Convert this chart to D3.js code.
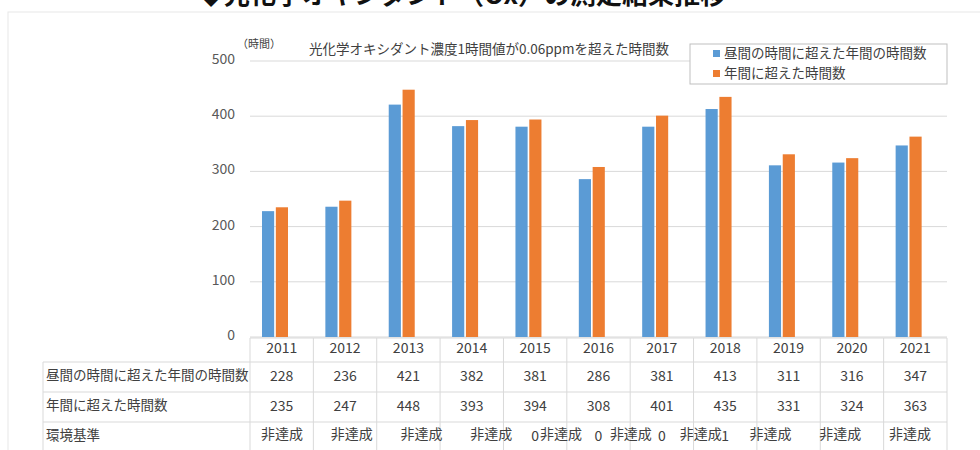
<!DOCTYPE html>
<html>
<head>
<meta charset="utf-8">
<script src="https://cdn.jsdelivr.net/npm/d3@7"></script>
<style>
  body { margin: 0; background: #fff; }
  svg text { font-family: "Noto Sans CJK JP", "Noto Sans", sans-serif; }
</style>
</head>
<body>
<div id="chart"></div>
<script>
var years = ["2011","2012","2013","2014","2015","2016","2017","2018","2019","2020","2021"];
var daytimeHours = [228, 236, 421, 382, 381, 286, 381, 413, 311, 316, 347];
var annualHours = [235, 247, 448, 393, 394, 308, 401, 435, 331, 324, 363];
var seriesNames = ["昼間の時間に超えた年間の時間数", "年間に超えた時間数"];
var rowLabels = ["昼間の時間に超えた年間の時間数", "年間に超えた時間数", "環境基準"];
var standardCounts = ["", "", "", "", "0", "0", "0", "1", "", "", ""];
var standardLabels = ["非達成","非達成","非達成","非達成","非達成","非達成","非達成","非達成","非達成","非達成"];
var yTicks = [0, 100, 200, 300, 400, 500];

var colors = ["#5b9bd5", "#ed7d31"];
var gridColor = "#d9d9d9";
var axisText = "#595959";
var tableText = "#404040";

var width = 980, height = 450;

var svg = d3.select("#chart").append("svg")
  .attr("width", width)
  .attr("height", height);

// faint frame of the pasted picture
svg.append("rect")
  .attr("x", 8).attr("y", 12)
  .attr("width", 1000).attr("height", 460)
  .attr("fill", "#fff")
  .attr("stroke", "#e8e8e8");

// page heading, cut off at the top as in the source
svg.append("text")
  .attr("x", 462).attr("y", 4)
  .attr("text-anchor", "middle")
  .attr("font-size", 26)
  .attr("font-weight", "bold")
  .attr("fill", "#111")
  .text("◆光化学オキシダント（Ox）の測定結果推移");

var y = d3.scaleLinear().domain([0, 500]).range([337, 61]);
var xBar = d3.scaleBand().domain(years).range([243, 940]);
var xSeries = d3.scaleBand().domain([0, 1]).range([19, 45]).paddingInner(0.12);
var xTable = d3.scaleBand().domain(years).range([250, 947]);

// gridlines
svg.append("g").selectAll("line")
  .data(yTicks)
  .enter().append("line")
  .attr("x1", 250).attr("x2", 947)
  .attr("y1", d => y(d)).attr("y2", d => y(d))
  .attr("stroke", gridColor);

// y axis labels
svg.append("g").selectAll("text")
  .data(yTicks)
  .enter().append("text")
  .attr("x", 235)
  .attr("y", d => y(d) - 2)
  .attr("dy", "0.35em")
  .attr("text-anchor", "end")
  .attr("font-size", 14)
  .attr("fill", axisText)
  .text(d => d);

svg.append("text")
  .attr("x", 237).attr("y", 48)
  .attr("font-size", 11)
  .attr("fill", tableText)
  .text("（時間）");

svg.append("text")
  .attr("x", 309).attr("y", 49)
  .attr("dy", "0.35em")
  .attr("font-size", 13.5)
  .attr("fill", tableText)
  .text("光化学オキシダント濃度1時間値が0.06ppmを超えた時間数");

// bars
var series = [daytimeHours, annualHours];
series.forEach(function(vals, s) {
  svg.append("g").selectAll("rect")
    .data(vals)
    .enter().append("rect")
    .attr("x", (d, i) => xBar(years[i]) + xSeries(s))
    .attr("y", d => y(d))
    .attr("width", xSeries.bandwidth())
    .attr("height", d => y(0) - y(d))
    .attr("fill", colors[s]);
});

// legend
var legend = svg.append("g");
legend.append("rect")
  .attr("x", 690).attr("y", 44)
  .attr("width", 257).attr("height", 40)
  .attr("fill", "#fff")
  .attr("stroke", "#bfbfbf");
seriesNames.forEach(function(name, s) {
  legend.append("rect")
    .attr("x", 713).attr("y", 50 + s * 20)
    .attr("width", 7).attr("height", 7)
    .attr("fill", colors[s]);
  legend.append("text")
    .attr("x", 724).attr("y", 53 + s * 20)
    .attr("dy", "0.35em")
    .attr("font-size", 13.5)
    .attr("fill", tableText)
    .text(name);
});

// data table
var rowY = [338, 362, 392, 422, 452];
var table = svg.append("g");
table.append("line")
  .attr("x1", 250).attr("x2", 947)
  .attr("y1", rowY[0]).attr("y2", rowY[0])
  .attr("stroke", gridColor);
rowY.slice(1).forEach(function(ry) {
  table.append("line")
    .attr("x1", 43).attr("x2", 947)
    .attr("y1", ry).attr("y2", ry)
    .attr("stroke", gridColor);
});
table.append("line")
  .attr("x1", 43).attr("x2", 43)
  .attr("y1", rowY[1]).attr("y2", height)
  .attr("stroke", gridColor);
table.selectAll("line.col")
  .data(years.concat(["end"]))
  .enter().append("line")
  .attr("class", "col")
  .attr("x1", (d, i) => 250 + i * xTable.step())
  .attr("x2", (d, i) => 250 + i * xTable.step())
  .attr("y1", rowY[0]).attr("y2", height)
  .attr("stroke", gridColor);

var cx = d => xTable(d) + xTable.bandwidth() / 2;

table.selectAll("text.year")
  .data(years)
  .enter().append("text")
  .attr("class", "year")
  .attr("x", cx)
  .attr("y", 348)
  .attr("dy", "0.35em")
  .attr("text-anchor", "middle")
  .attr("font-size", 14)
  .attr("fill", tableText)
  .text(d => d);

[daytimeHours, annualHours].forEach(function(vals, r) {
  table.selectAll("text.row" + r)
    .data(vals)
    .enter().append("text")
    .attr("class", "row" + r)
    .attr("x", (d, i) => cx(years[i]))
    .attr("y", [376, 406][r])
    .attr("dy", "0.35em")
    .attr("text-anchor", "middle")
    .attr("font-size", 14)
    .attr("fill", tableText)
    .text(d => d);
});

table.selectAll("text.count")
  .data(standardCounts)
  .enter().append("text")
  .attr("class", "count")
  .attr("x", (d, i) => cx(years[i]))
  .attr("y", 436)
  .attr("dy", "0.35em")
  .attr("text-anchor", "middle")
  .attr("font-size", 14)
  .attr("fill", tableText)
  .text(d => d);

// the 非達成 labels sit over the table with their own spacing
var xStd = d3.scalePoint().domain(d3.range(standardLabels.length)).range([282, 910]);
table.selectAll("text.std")
  .data(standardLabels)
  .enter().append("text")
  .attr("class", "std")
  .attr("x", (d, i) => xStd(i))
  .attr("y", 434)
  .attr("dy", "0.35em")
  .attr("text-anchor", "middle")
  .attr("font-size", 14)
  .attr("fill", tableText)
  .text(d => d);

rowLabels.forEach(function(label, r) {
  table.append("text")
    .attr("x", 46)
    .attr("y", [375, 405, 435][r])
    .attr("dy", "0.35em")
    .attr("font-size", 13.5)
    .attr("fill", tableText)
    .text(label);
});
</script>
</body>
</html>
